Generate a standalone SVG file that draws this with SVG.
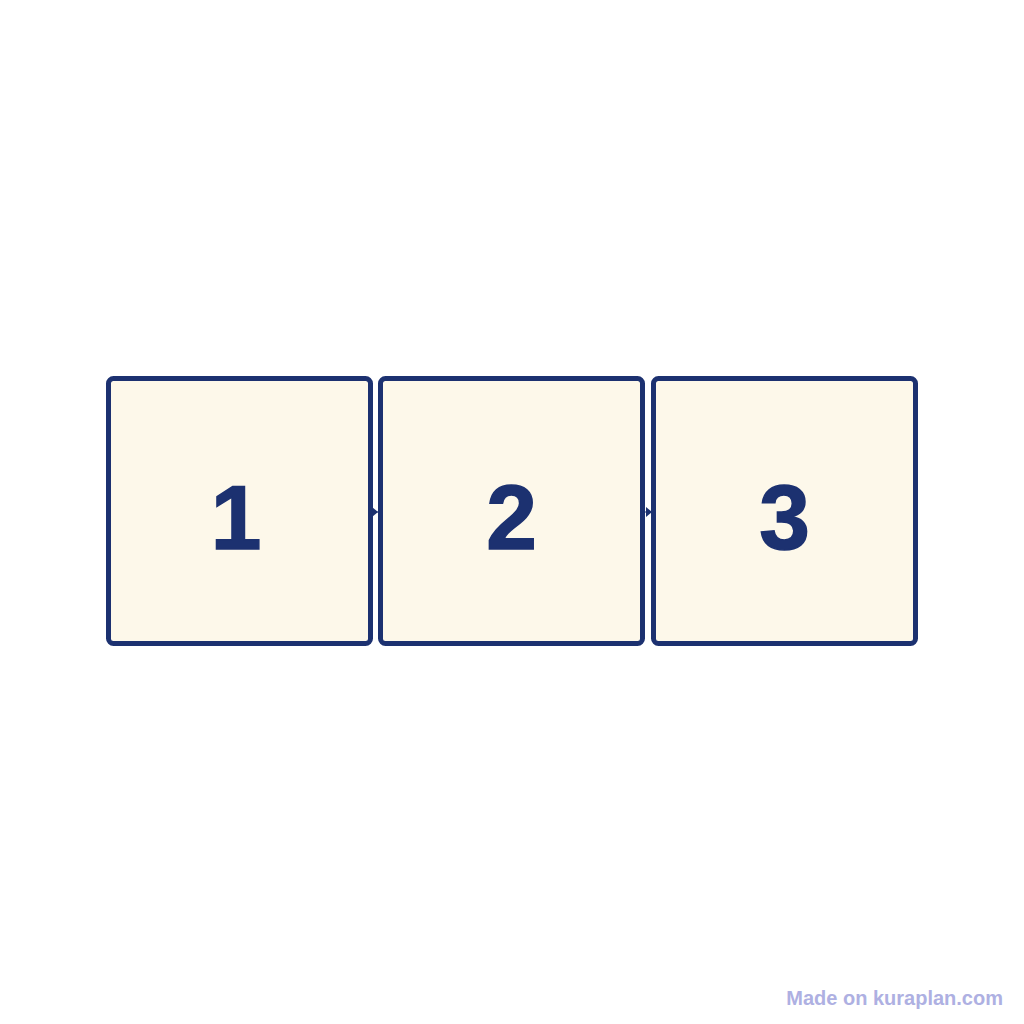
<svg xmlns="http://www.w3.org/2000/svg" width="1024" height="1024" viewBox="0 0 1024 1024">
<style>
.box{fill:#fdf8ea;stroke:#1c3170;stroke-width:5}
.num{font-family:"Liberation Sans",Arial,sans-serif;font-weight:bold;font-size:91px;fill:#1c3170;stroke:#1c3170;stroke-width:1.5;text-anchor:middle}
.wm{font-family:"Liberation Sans",Arial,sans-serif;font-weight:bold;font-size:20px;fill:#aeb0e2;text-anchor:end}
</style>
<defs>
<marker id="arr" markerWidth="6" markerHeight="10" refX="6" refY="5" orient="auto" markerUnits="userSpaceOnUse">
<path d="M0,0 L6,5 L0,10 Z" fill="#1c3170"/>
</marker>
</defs>
<rect width="1024" height="1024" fill="#ffffff"/>
<g id="connectors">
<line x1="372" y1="512" x2="378" y2="512" stroke="#1c3170" stroke-width="1" marker-end="url(#arr)"/>
<line x1="645" y1="512" x2="652" y2="512" stroke="#1c3170" stroke-width="1" marker-end="url(#arr)"/>
</g>
<g id="node1">
<rect class="box" x="108.5" y="378.5" width="262" height="265" rx="5"/>
<text class="num" x="236" y="548.5">1</text>
</g>
<g id="node2">
<rect class="box" x="380.5" y="378.5" width="262" height="265" rx="5"/>
<text class="num" x="511.5" y="548.5">2</text>
</g>
<g id="node3">
<rect class="box" x="653.5" y="378.5" width="262" height="265" rx="5"/>
<text class="num" x="784.5" y="548.5">3</text>
</g>
<text class="wm" x="1003" y="1005">Made on kuraplan.com</text>
</svg>
